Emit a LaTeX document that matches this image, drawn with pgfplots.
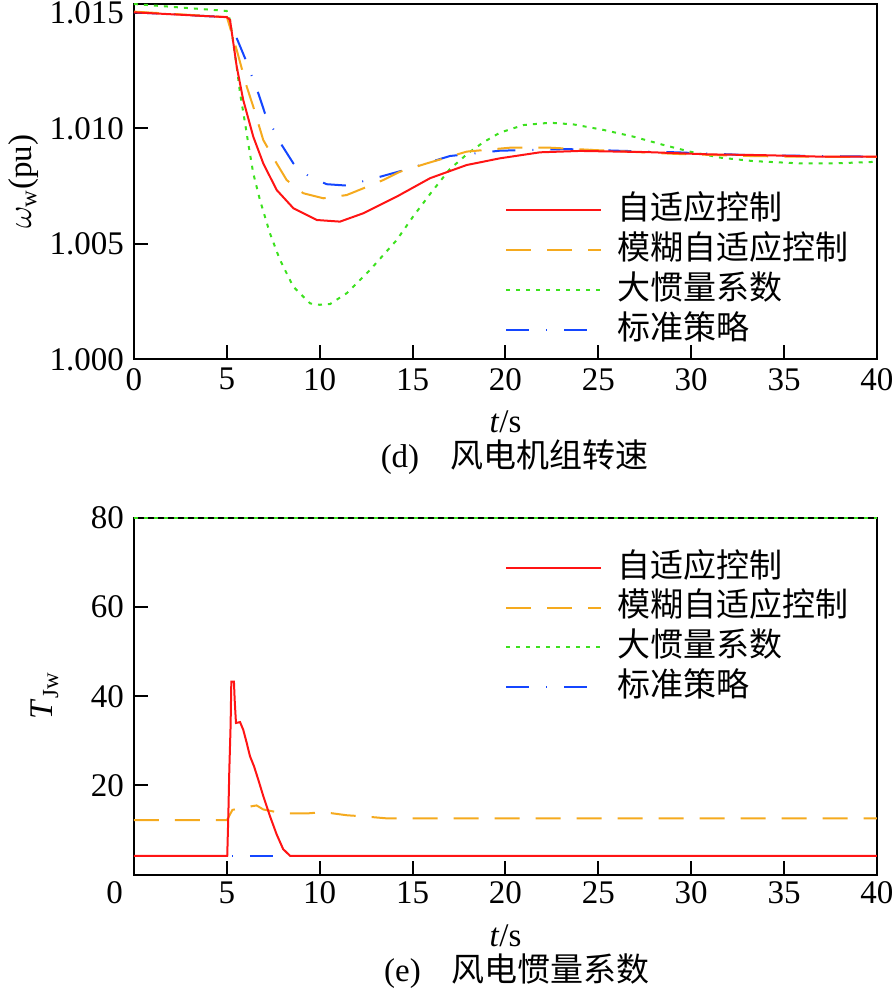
\documentclass[border=0pt]{standalone}
\usepackage{fontspec}
\setmainfont{Liberation Serif}
\newfontfamily\cjk{Noto Sans CJK SC}
\usepackage{pgfplots}
\pgfplotsset{compat=1.18}
\definecolor{cred}{RGB}{255,20,20}
\definecolor{corange}{RGB}{245,170,30}
\definecolor{cgreen}{RGB}{60,225,30}
\definecolor{cblue}{RGB}{20,70,255}
\pgfplotsset{
  myaxis/.style={
    scale only axis, width=371.5pt,
    xmin=0, xmax=40, xtick={0,5,...,40},
    tick align=inside, xtick pos=left, ytick pos=left,
    major tick length=7pt,
    axis line style={line width=1pt},
    every tick/.style={black, line width=1pt},
    tick label style={font=\fontsize{16.5}{18}\selectfont},
    yticklabel style={xshift=-1.5pt},
    label style={font=\fontsize{16.5}{18}\selectfont},
    /pgf/number format/assume math mode=true,
    clip=false,
    legend style={draw=none, fill=none, anchor=north west, inner sep=0pt, outer sep=0pt,
      font=\fontsize{16.5}{18}\selectfont\cjk, column sep=5.3pt,
      nodes={inner sep=2.35pt, text height=12.2pt, text depth=3pt}},
    legend cell align=left,
    legend image code/.code={\draw[##1] (0pt,0pt) -- (47.5pt,0pt);},
    reverse legend,
    every axis plot/.append style={line width=1pt},
  },
  sred/.style={cred, solid},
  sorange/.style={corange, dash pattern=on 12.5pt off 8pt},
  sgreen/.style={cgreen, dash pattern=on 2pt off 3pt},
  sblue/.style={cblue, dash pattern=on 11.5pt off 8.5pt on 0.5pt off 8.5pt},
}
\begin{document}
\begin{tikzpicture}
\begin{axis}[myaxis, name=top,
  height=177.65pt,
  ymin=1.0, ymax=1.01538,
  ytick={1.0,1.005,1.01,1.015},
  yticklabel style={/pgf/number format/.cd, fixed, fixed zerofill, precision=3},
  xticklabel style={yshift=-1pt},
  xlabel={\textit{t}/s},
  xlabel style={at={(rel axis cs:0.5,-0.1762)}, anchor=center},
  ylabel={$\omega_{\mathrm{w}}$(pu)},
  ylabel style={at={(rel axis cs:-0.149,0.5)}, anchor=center},
  legend style={at={(0.4995,0.475)}},
]
\addplot[sblue] coordinates {
(0,1.01502) (5.0,1.01481) (5.17,1.01461) (5.53,1.01390) (5.98,1.01303) (6.69,1.01152)
(7.05,1.01065) (7.95,1.00928) (8.58,1.00848) (9.38,1.00794) (10.37,1.00758) (11.45,1.00752)
(13.24,1.00790) (14.41,1.00816) (17.01,1.00880) (19.70,1.00903) (23.3,1.00910) (25.99,1.00903)
(29.2,1.00896) (33,1.00884) (40,1.00877)};
\addlegendentry{标准策略}
\addplot[sgreen] coordinates {
(0,1.01538) (4.99,1.01508) (5.17,1.01469) (5.53,1.01267) (5.71,1.01152) (5.98,1.01022)
(6.15,1.00935) (6.42,1.00805) (6.78,1.00690) (7.32,1.00545) (7.86,1.00430) (8.58,1.00314)
(9.48,1.00242) (10.0,1.00236) (10.55,1.00239) (11.45,1.00286) (12.71,1.00387) (14.14,1.00516)
(15.0,1.00615) (16.0,1.00722) (17.0,1.00823) (18.0,1.00893) (18.8,1.00939) (19.70,1.00981)
(20.96,1.01014) (22.4,1.01024) (23.65,1.01017) (25.27,1.00993) (26.88,1.00964) (28.5,1.00928)
(29.93,1.00899) (31.55,1.00873) (33.34,1.00858) (35.85,1.00848) (37.65,1.00848) (40,1.00855)};
\addlegendentry{大惯量系数}
\addplot[sorange] coordinates {
(0,1.01505) (4.63,1.01483) (5.0,1.01482) (5.53,1.01339) (6.07,1.01180) (6.42,1.01094)
(6.96,1.00949) (7.68,1.00848) (8.22,1.00776) (9.11,1.00719) (10.19,1.00697) (11.45,1.00711)
(12.34,1.00740) (13.42,1.00776) (14.32,1.00812) (15.76,1.00848) (17.91,1.00899) (20.24,1.00916)
(22.4,1.00916) (24.73,1.00906) (29.2,1.00889) (33.16,1.00880) (35.85,1.00877) (40,1.00876)};
\addlegendentry{模糊自适应控制}
\addplot[sred] coordinates {
(0,1.01502) (5.0,1.01481) (5.17,1.01469) (5.53,1.01267) (5.88,1.01123) (6.42,1.00964)
(6.96,1.00848) (7.68,1.00733) (8.58,1.00654) (9.84,1.00603) (11.09,1.00596) (12.34,1.00632)
(14.14,1.00704) (15.94,1.00784) (17.91,1.00841) (19.70,1.00870) (21.86,1.00896) (24.01,1.00902)
(27.6,1.00897) (31.0,1.00887) (33.7,1.00884) (37.1,1.00877) (40,1.00877)};
\addlegendentry{自适应控制}
\end{axis}
\node[font=\fontsize{16.5}{18}\selectfont] at ([xshift=4.5pt,yshift=-49pt]top.south) {(d)\hspace{15.5pt}{\cjk 风电机组转速}};

\begin{axis}[myaxis, name=bot, at={(0,-257.6pt)},
  height=178.25pt,
  ymin=0, ymax=80,
  ytick={20,40,60,80},
  xticklabels={\makebox[0pt][r]{0\hspace{5.5pt}},5,10,15,20,25,30,35,40},
  xlabel={\textit{t}/s},
  xlabel style={at={(rel axis cs:0.5,-0.1711)}, anchor=center},
  ylabel={\textit{T}\raisebox{-0.35ex}{\fontsize{11.5}{12}\selectfont Jw}},
  ylabel style={at={(rel axis cs:-0.12,0.5)}, anchor=center},
  legend style={at={(0.4995,0.916)}},
]
\addplot[sblue] coordinates {(0,4.2) (40,4.2)};
\addlegendentry{标准策略}
\addplot[sgreen] coordinates {(0,80) (40,80)};
\addlegendentry{大惯量系数}
\addplot[sorange] coordinates {
(0,12.2) (5.0,12.2) (5.3,14.5) (5.88,15.0) (6.6,15.5) (6.96,14.6) (8.03,13.7) (9.3,13.7)
(10.2,14.0) (11.45,13.3) (12.5,13.0) (13.6,12.6) (40,12.6)};
\addlegendentry{模糊自适应控制}
\addplot[sred] coordinates {
(0,4.2) (5.0,4.2) (5.02,4.2) (5.08,13.5) (5.13,23.2) (5.20,33.3) (5.24,43.3) (5.38,43.3)
(5.42,39.2) (5.49,34.0) (5.71,34.2) (5.88,32.5) (6.07,29.5) (6.24,26.6) (6.46,24.3)
(6.69,21.3) (6.96,17.6) (7.32,13.1) (7.68,9.0) (8.03,5.7) (8.40,4.2) (40,4.2)};
\addlegendentry{自适应控制}
\end{axis}
\node[font=\fontsize{16.5}{18}\selectfont] at ([xshift=5.75pt,yshift=-48.5pt]bot.south) {(e)\hspace{15.5pt}{\cjk 风电惯量系数}};
\pgfresetboundingbox
\path[use as bounding box] ([xshift=-67pt,yshift=2pt]top.north west) rectangle ([xshift=9pt,yshift=-58.75pt]bot.south east);
\end{tikzpicture}
\end{document}
